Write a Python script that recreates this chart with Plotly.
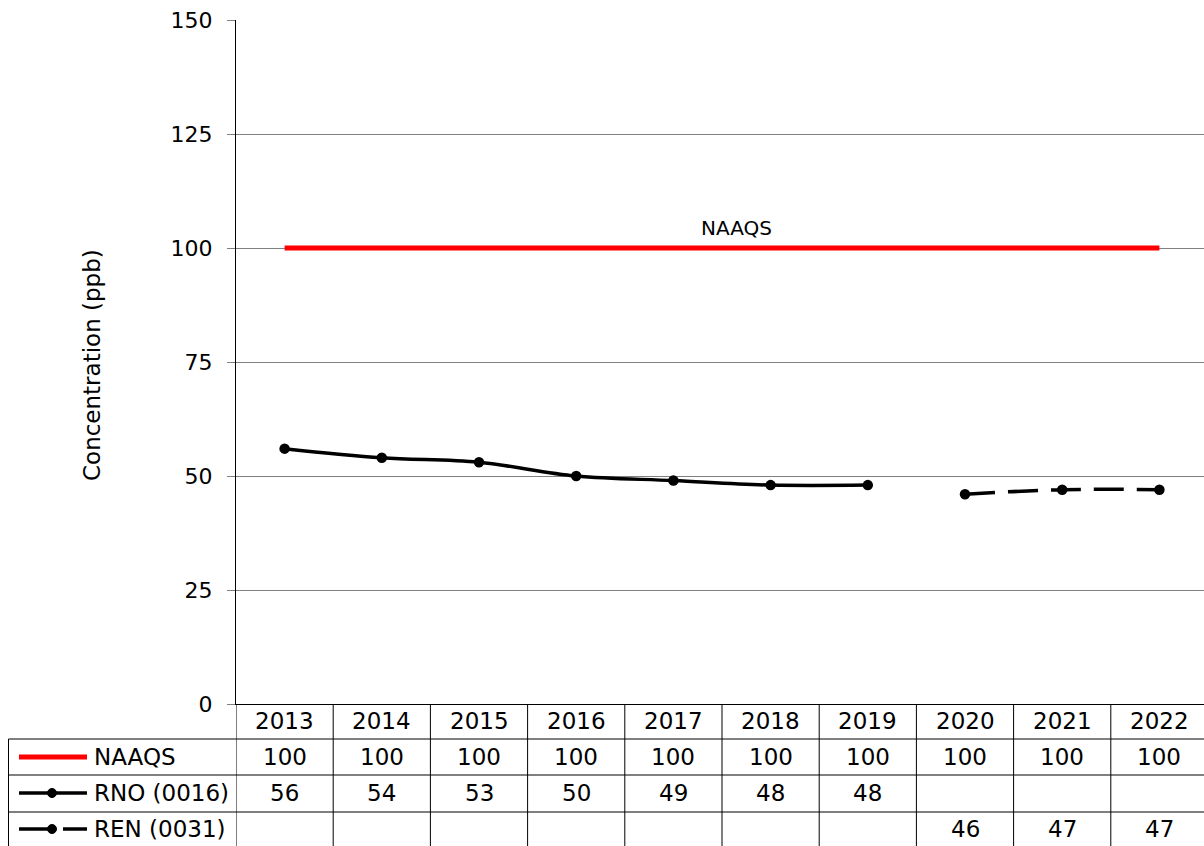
import plotly.graph_objects as go

years = ["2013", "2014", "2015", "2016", "2017", "2018", "2019", "2020", "2021", "2022"]
naaqs = [100, 100, 100, 100, 100, 100, 100, 100, 100, 100]
rno = [56, 54, 53, 50, 49, 48, 48, None, None, None]
ren = [None, None, None, None, None, None, None, 46, 47, 47]
series_names = ["NAAQS", "RNO (0016)", "REN (0031)"]
y_ticks = [0, 25, 50, 75, 100, 125, 150]

FONT = "DejaVu Sans"
W, H = 1204, 846
ML, MR, MT, MB = 236, 0, 20, 142
PW = W - ML - MR
PH = H - MT - MB
x_lo = -0.5
x_hi = -0.5 + PW / 97.2

def pxx(p):
    return (p - ML) / PW

def pxy(p):
    return (H - MB - p) / PH

xs = list(range(len(years)))

fig = go.Figure()
fig.add_trace(go.Scatter(x=xs, y=naaqs, mode="lines", name=series_names[0],
                         line=dict(color="#ff0000", width=5), cliponaxis=False))
fig.add_trace(go.Scatter(x=xs, y=rno, mode="lines+markers", name=series_names[1],
                         line=dict(color="#000000", width=3.5, shape="spline"),
                         marker=dict(size=10.5, color="#000000")))
fig.add_trace(go.Scatter(x=xs, y=ren, mode="lines+markers", name=series_names[2],
                         line=dict(color="#000000", width=3.5, shape="spline", dash="30px,13px"),
                         marker=dict(size=10.5, color="#000000")))

shapes = []
annotations = []
TS = 23

annotations.append(dict(text="Concentration (ppb)", xref="paper", yref="paper",
                        x=pxx(92), y=pxy(365), showarrow=False, textangle=-90,
                        font=dict(family=FONT, size=23, color="#000"),
                        xanchor="center", yanchor="middle"))
annotations.append(dict(text="NAAQS", xref="x", yref="y", x=4.65, y=100, yshift=6,
                        showarrow=False, yanchor="bottom", xanchor="center",
                        font=dict(family=FONT, size=20, color="#000")))

row_lines = [739, 775, 812]
row_centers = [721, 757, 793, 829]
line_col = "#000000"
for k in range(len(years) + 1):
    shapes.append(dict(type="line", xref="x", yref="paper", x0=k - 0.5, x1=k - 0.5,
                       y0=pxy(704), y1=pxy(850), line=dict(color=line_col, width=1)))
shapes.append(dict(type="line", xref="paper", yref="paper", x0=pxx(8.5), x1=pxx(8.5),
                   y0=pxy(739), y1=pxy(850), line=dict(color=line_col, width=1)))
for r in row_lines:
    shapes.append(dict(type="line", xref="paper", yref="paper", x0=pxx(8.5), x1=1,
                       y0=pxy(r), y1=pxy(r), line=dict(color=line_col, width=1)))

for i, yr in enumerate(years):
    annotations.append(dict(text=yr, xref="x", yref="paper", x=i, y=pxy(row_centers[0]),
                            showarrow=False, xanchor="center", yanchor="middle",
                            font=dict(family=FONT, size=TS, color="#000")))
for ri, vals in enumerate([naaqs, rno, ren]):
    for i, v in enumerate(vals):
        if v is None:
            continue
        annotations.append(dict(text=str(v), xref="x", yref="paper", x=i, y=pxy(row_centers[ri + 1]),
                                showarrow=False, xanchor="center", yanchor="middle",
                                font=dict(family=FONT, size=TS, color="#000")))
for ri, name in enumerate(series_names):
    yc = pxy(row_centers[ri + 1])
    annotations.append(dict(text=name, xref="paper", yref="paper", x=pxx(92), y=yc,
                            showarrow=False, xanchor="left", yanchor="middle",
                            font=dict(family=FONT, size=TS, color="#000")))
shapes.append(dict(type="line", xref="paper", yref="paper", x0=pxx(19), x1=pxx(87),
                   y0=pxy(757), y1=pxy(757), line=dict(color="#ff0000", width=5)))
shapes.append(dict(type="line", xref="paper", yref="paper", x0=pxx(19), x1=pxx(87),
                   y0=pxy(793), y1=pxy(793), line=dict(color="#000", width=3.5)))
shapes.append(dict(type="circle", xref="paper", yref="paper", x0=pxx(47.5), x1=pxx(56.5),
                   y0=pxy(797.5), y1=pxy(788.5), fillcolor="#000", line=dict(color="#000", width=1)))
shapes.append(dict(type="line", xref="paper", yref="paper", x0=pxx(19), x1=pxx(52),
                   y0=pxy(829), y1=pxy(829), line=dict(color="#000", width=3.5)))
shapes.append(dict(type="line", xref="paper", yref="paper", x0=pxx(63), x1=pxx(87),
                   y0=pxy(829), y1=pxy(829), line=dict(color="#000", width=3.5)))
shapes.append(dict(type="circle", xref="paper", yref="paper", x0=pxx(47.5), x1=pxx(56.5),
                   y0=pxy(833.5), y1=pxy(824.5), fillcolor="#000", line=dict(color="#000", width=1)))

fig.update_layout(
    width=W, height=H,
    margin=dict(l=ML, r=MR, t=MT, b=MB, pad=0),
    paper_bgcolor="white", plot_bgcolor="white",
    showlegend=False,
    font=dict(family=FONT, size=TS, color="#000"),
    shapes=shapes, annotations=annotations,
    xaxis=dict(range=[x_lo, x_hi], showticklabels=False, showgrid=False, zeroline=False,
               showline=True, linecolor="#000", linewidth=1, ticks=""),
    yaxis=dict(range=[0, 150], tickvals=y_ticks, showgrid=True, gridcolor="#808080", gridwidth=1,
               zeroline=False, showline=True, linecolor="#000", linewidth=1,
               ticks="outside", ticklen=8, tickcolor="#808080", ticklabelstandoff=10,
               tickfont=dict(family=FONT, size=22, color="#000")),
)

fig.write_html("out.html", config={"displayModeBar": False},
               post_script="document.body.style.margin='0px';document.body.style.overflow='hidden';")
